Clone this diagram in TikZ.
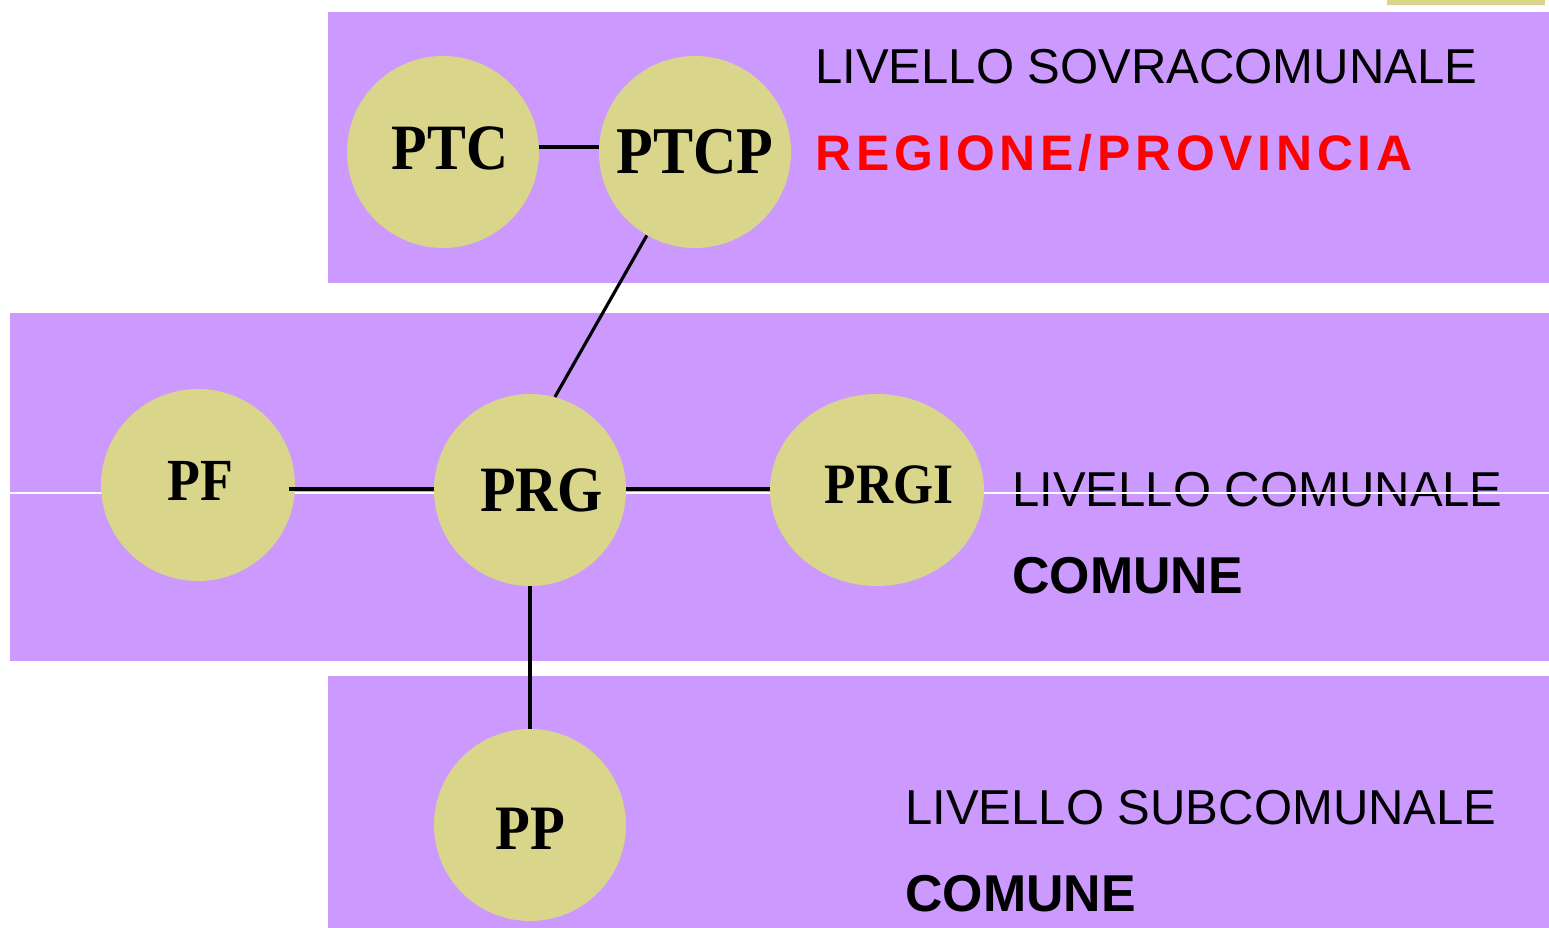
\documentclass[tikz,border=0pt]{standalone}
\usepackage{fontspec}
\setmainfont{Liberation Serif}
\setsansfont{Liberation Sans}
\newfontfamily\siglafont[FakeStretch=0.9]{Liberation Serif}
\newfontfamily\spaziatafont[LetterSpace=9.5]{Liberation Sans}
\usetikzlibrary{shapes.geometric}
\definecolor{lilla}{RGB}{204,153,255}
\definecolor{giallino}{RGB}{217,213,138}
\definecolor{rosso}{RGB}{255,0,0}

\begin{document}
\begin{tikzpicture}[x=0.02cm,y=-0.02cm,
    fascia/.style={fill=lilla,draw=none},
    piano/.style={ellipse,fill=giallino,inner sep=0pt,minimum width=3.84cm,minimum height=3.84cm},
    sigla/.style={font=\siglafont\fontsize{#1}{#1}\selectfont\bfseries},
    livello/.style={anchor=base west,inner sep=0pt,font=\sffamily\fontsize{27.9}{30}\selectfont},
    ente/.style={anchor=base west,inner sep=0pt,font=\sffamily\fontsize{29.5}{32}\selectfont\bfseries},
    tratto/.style={line width=1.8pt}]
    \useasboundingbox (0,0) rectangle (1549,928);

    % fasce dei livelli
    \fill[fascia] (328,12) rectangle (1549,283);
    \fill[fascia] (10,313) rectangle (1549,661);
    \fill[fascia] (328,676) rectangle (1549,928);
    \fill[giallino] (1387,0) rectangle (1545,5);

    % testi dei livelli
    \node[livello] (sovra) at (815,84) {LIVELLO SOVRACOMUNALE};
    \node[livello,font=\spaziatafont\fontsize{28.4}{30}\selectfont\bfseries,text=rosso] (regione) at (815,171) {REGIONE/PROVINCIA};
    \node[livello] (comunale) at (1012,507) {LIVELLO COMUNALE};
    \node[ente] (comune) at (1012,594) {COMUNE};
    \node[livello] (sub) at (905,825) {LIVELLO SUBCOMUNALE};
    \node[ente] (comunesub) at (905,911) {COMUNE};

    \draw[white,line width=0.6pt] (10,493) -- (1549,493);

    % piani
    \node[piano,label={[sigla=36.8,xshift=0.14cm,yshift=0.07cm]center:PTC}] (ptc) at (443,152) {};
    \node[piano,label={[sigla=38]center:PTCP}] (ptcp) at (695,152) {};
    \node[piano,minimum width=3.88cm,label={[sigla=34,xshift=0.05cm,yshift=0.09cm]center:PF}] (pf) at (198,485) {};
    \node[piano,label={[sigla=36.8,xshift=0.23cm]center:PRG}] (prg) at (530,490) {};
    \node[piano,minimum width=4.28cm,label={[sigla=32.5,xshift=0.24cm,yshift=0.11cm]center:PRGI}] (prgi) at (877,490) {};
    \node[piano,label={[sigla=36,yshift=-0.08cm]center:PP}] (pp) at (530,825) {};

    % collegamenti
    \draw[tratto] (ptc.east |- 0,147) -- (ptcp.west |- 0,147);
    \draw[tratto] (ptcp.-120) -- (prg.75);
    \draw[tratto] (prg.west |- 0,489) -- ([xshift=-0.12cm]pf.east |- 0,489);
    \draw[tratto] (prg.east |- 0,489) -- (prgi.west |- 0,489);
    \draw[tratto] (prg.south) -- (pp.north);
\end{tikzpicture}
\end{document}
